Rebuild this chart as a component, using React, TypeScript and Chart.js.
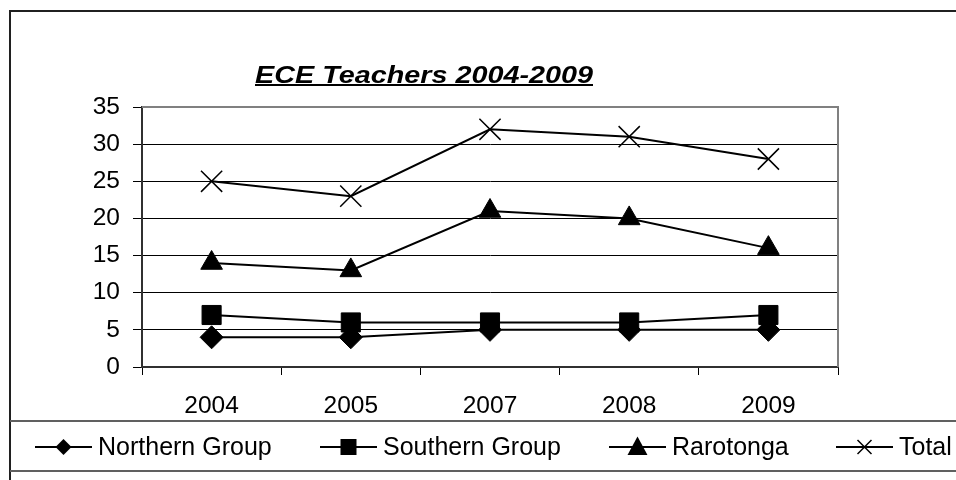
import React, { useEffect, useRef } from "react";
import { Chart, registerables } from "chart.js";

Chart.register(...registerables);

const categories = ["2004", "2005", "2007", "2008", "2009"];
const northernGroup = [4, 4, 5, 5, 5];
const southernGroup = [7, 6, 6, 6, 7];
const rarotonga = [14, 13, 21, 20, 16];
const total = [25, 23, 32, 31, 28];
const seriesNames = ["Northern Group", "Southern Group", "Rarotonga", "Total"];
const titleText = "ECE Teachers 2004-2009";
const yTickStep = 5;
const yMax = 35;

const FONT = '"Liberation Sans", Arial, sans-serif';

function drawMarker(ctx: CanvasRenderingContext2D, style: string, x: number, y: number, s: number) {
  ctx.save();
  ctx.fillStyle = "#000";
  ctx.strokeStyle = "#000";
  ctx.beginPath();
  if (style === "rectRot") {
    ctx.moveTo(x - s, y);
    ctx.lineTo(x, y - s);
    ctx.lineTo(x + s, y);
    ctx.lineTo(x, y + s);
    ctx.closePath();
    ctx.fill();
  } else if (style === "rect") {
    ctx.rect(x - s, y - s, 2 * s, 2 * s);
    ctx.fill();
  } else if (style === "triangle") {
    ctx.moveTo(x, y - s);
    ctx.lineTo(x + s * 0.95, y + s * 0.75);
    ctx.lineTo(x - s * 0.95, y + s * 0.75);
    ctx.closePath();
    ctx.fill();
  } else {
    ctx.lineWidth = 1.5;
    ctx.moveTo(x - s, y - s);
    ctx.lineTo(x + s, y + s);
    ctx.moveTo(x + s, y - s);
    ctx.lineTo(x - s, y + s);
    ctx.stroke();
  }
  ctx.restore();
}

const decorPlugin = {
  id: "decor",
  beforeDatasetsDraw(chart: any) {
    const { ctx, chartArea } = chart;
    ctx.save();
    ctx.strokeStyle = "#808080";
    ctx.lineWidth = 2;
    ctx.beginPath();
    ctx.moveTo(chartArea.left, chartArea.top);
    ctx.lineTo(chartArea.right, chartArea.top);
    ctx.lineTo(chartArea.right, chartArea.bottom);
    ctx.stroke();
    ctx.restore();
  },
  afterDraw(chart: any) {
    const { ctx } = chart;
    const W = chart.width;
    ctx.save();
    ctx.strokeStyle = "#202020";
    ctx.lineWidth = 2;
    ctx.beginPath();
    ctx.moveTo(10, 500);
    ctx.lineTo(10, 11);
    ctx.lineTo(W + 5, 11);
    ctx.stroke();

    // title
    ctx.font = `bold italic 24.5px ${FONT}`;
    ctx.fillStyle = "#000";
    ctx.textAlign = "left";
    ctx.textBaseline = "alphabetic";
    const tw = ctx.measureText(titleText).width;
    const targetW = 338;
    const tx = 255;
    ctx.save();
    ctx.translate(tx, 83);
    ctx.scale(targetW / tw, 1);
    ctx.fillText(titleText, 0, 0);
    ctx.restore();
    ctx.fillRect(tx, 84, targetW, 2);

    // legend box
    ctx.strokeStyle = "#606060";
    ctx.lineWidth = 2;
    ctx.beginPath();
    ctx.moveTo(10, 421);
    ctx.lineTo(W + 5, 421);
    ctx.moveTo(10, 471);
    ctx.lineTo(W + 5, 471);
    ctx.stroke();

    const ly = 447;
    const items = [
      { x0: 35, style: "rectRot", s: 8 },
      { x0: 320, style: "rect", s: 8 },
      { x0: 609, style: "triangle", s: 10.5 },
      { x0: 836, style: "crossRot", s: 7 },
    ];
    items.forEach((it, i) => {
      ctx.strokeStyle = "#000";
      ctx.lineWidth = 2;
      ctx.beginPath();
      ctx.moveTo(it.x0, ly);
      ctx.lineTo(it.x0 + 57, ly);
      ctx.stroke();
      drawMarker(ctx, it.style, it.x0 + 28.5, ly, it.s);
      ctx.font = `25px ${FONT}`;
      ctx.fillStyle = "#000";
      ctx.textAlign = "left";
      ctx.textBaseline = "middle";
      ctx.fillText(seriesNames[i], it.x0 + 63, ly + 1);
    });
    ctx.restore();
  },
};

export default function App() {
  const ref = useRef<HTMLCanvasElement | null>(null);
  useEffect(() => {
    document.body.style.margin = "0";
    const canvas = ref.current!;
    const mk = (label: string, data: number[], pointStyle: string, radius: number, bw = 1) => ({
      label,
      data,
      borderColor: "#000",
      backgroundColor: "#000",
      borderWidth: 2,
      pointStyle,
      pointRadius: radius,
      pointHoverRadius: radius,
      pointBackgroundColor: "#000",
      pointBorderColor: "#000",
      pointBorderWidth: bw,
      tension: 0,
    });
    const chart = new Chart(canvas, {
      type: "line",
      data: {
        labels: categories,
        datasets: [
          mk(seriesNames[0], northernGroup, "rectRot", 11.5),
          mk(seriesNames[1], southernGroup, "rect", 13.5),
          mk(seriesNames[2], rarotonga, "triangle", 12.5),
          mk(seriesNames[3], total, "crossRot", 15, 1.5),
        ],
      },
      options: {
        responsive: false,
        animation: false,
        devicePixelRatio: 1,
        layout: { padding: { left: 0, top: 107, right: 118, bottom: 0 } },
        plugins: { legend: { display: false }, title: { display: false }, tooltip: { enabled: false } },
        scales: {
          x: {
            type: "category",
            offset: true,
            grid: { offset: true, drawOnChartArea: false, drawTicks: true, tickLength: 8, color: "#000", lineWidth: 1 },
            border: { color: "#303030", width: 2 },
            ticks: { font: { family: FONT, size: 24.5 }, color: "#000", padding: 17, maxRotation: 0, autoSkip: false },
            afterFit: (s: any) => {
              s.height = 113;
            },
          },
          y: {
            min: 0,
            max: yMax,
            grid: { color: "#000", lineWidth: 1, tickLength: 9, drawTicks: true },
            border: { color: "#303030", width: 2 },
            ticks: { stepSize: yTickStep, font: { family: FONT, size: 24.5 }, color: "#000", padding: 13 },
            afterFit: (s: any) => {
              s.width = 142;
            },
          },
        },
      } as any,
      plugins: [decorPlugin],
    });
    return () => chart.destroy();
  }, []);
  return (
    <div style={{ position: "fixed", left: 0, top: 0, width: 956, height: 480, background: "#fff" }}>
      <canvas ref={ref} width={956} height={480} style={{ width: 956, height: 480, display: "block" }} />
    </div>
  );
}
